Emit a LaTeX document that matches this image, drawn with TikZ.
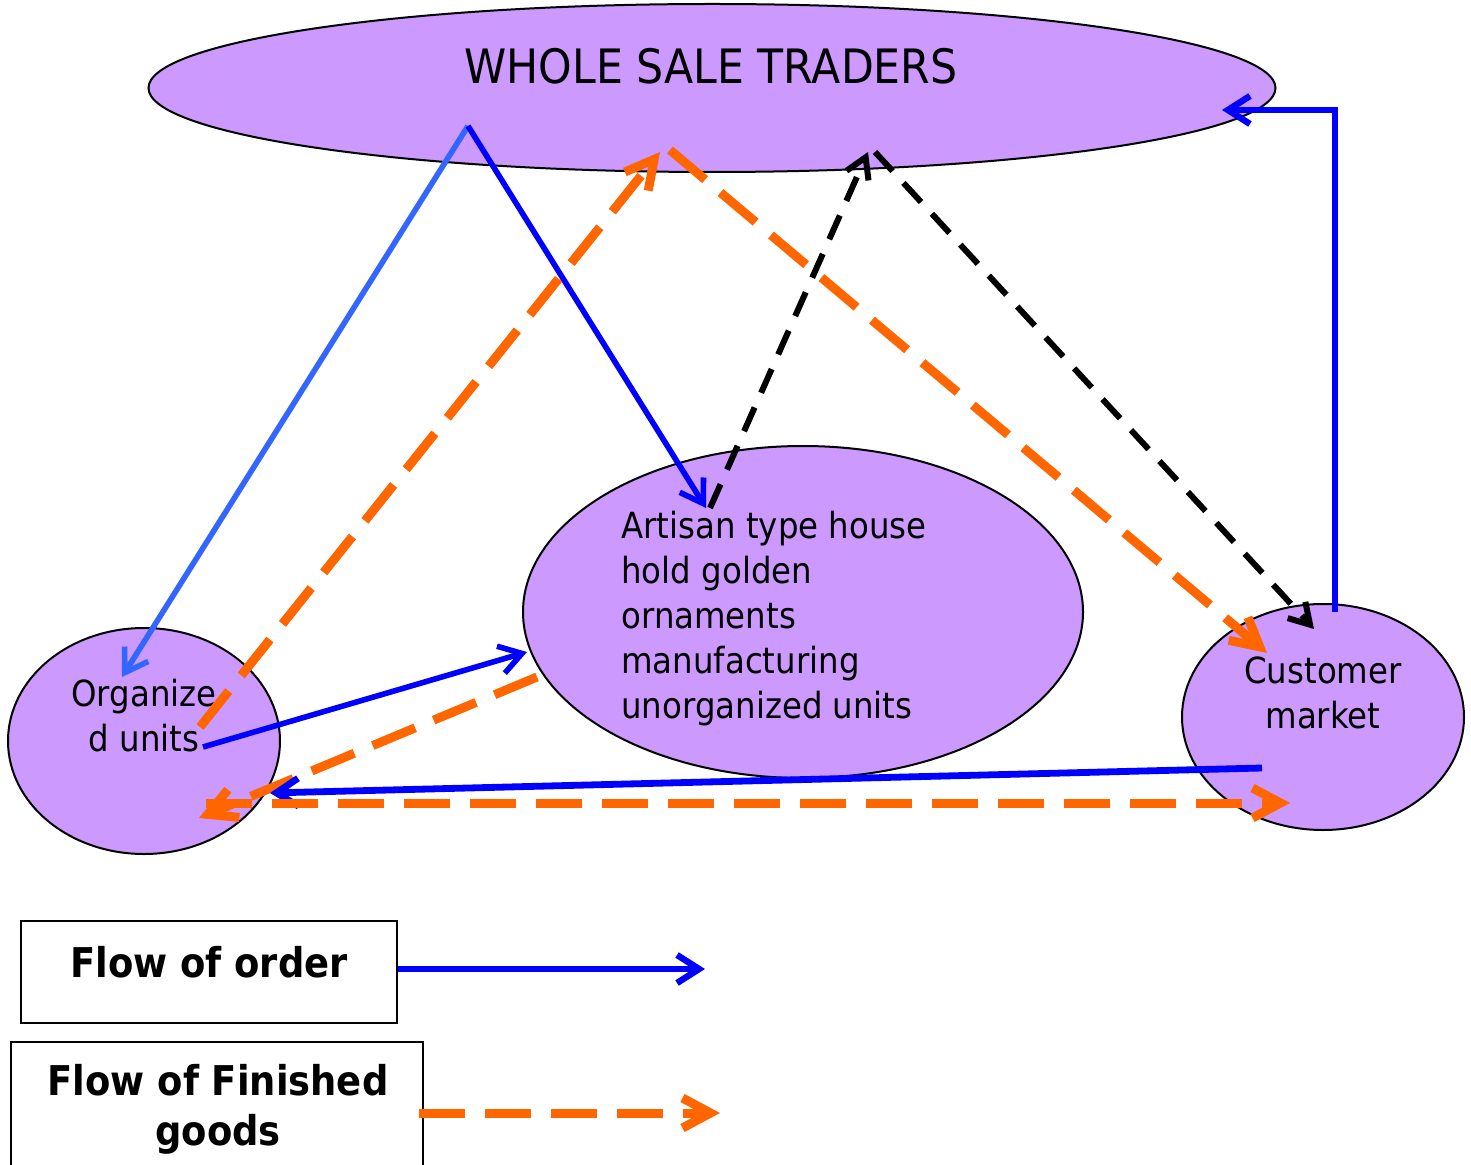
\documentclass[tikz,border=0pt]{standalone}
\usepackage{fontspec}
\setmainfont{DejaVu Sans}[FakeStretch=0.9]
\usetikzlibrary{shapes.geometric,arrows.meta}

\definecolor{lilac}{RGB}{204,153,255}
\definecolor{goodsorange}{RGB}{255,102,0}
\definecolor{orderblue}{RGB}{0,0,255}
\definecolor{orderlight}{RGB}{51,102,255}

\tikzset{
  unit/.style={ellipse, draw=black, line width=1pt, fill=lilac, inner sep=0pt},
  unittext/.style={inner sep=0pt, font=\fontsize{18}{22.5}\selectfont},
  legendtext/.style={inner sep=0pt, align=center, font=\fontsize{20.5}{25}\selectfont\bfseries},
  orderflow/.style={draw=orderblue, line width=2.8pt, -{Straight Barb[length=11pt,width=14pt]}},
  goodsflow/.style={draw=goodsorange, line width=4.5pt, dash pattern=on 23pt off 10pt, -{Straight Barb[length=14pt,width=15pt]}},
  tradeflow/.style={draw=black, line width=3pt, dash pattern=on 13pt off 8pt, -{Straight Barb[length=10pt,width=12pt]}},
  legendbox/.style={draw=black, line width=0.8pt}
}

\begin{document}
\begin{tikzpicture}[x=0.5pt,y=0.5pt,yscale=-1,xscale=1]
\useasboundingbox (0,0) rectangle (1471,1165);

%Shape: Ellipse
\node[unit, minimum width=563.5pt, minimum height=84pt] (whole) at (712,88) {};
%Shape: Ellipse
\node[unit, minimum width=280pt, minimum height=166pt] (artisan) at (803,612) {};
%Shape: Ellipse
\node[unit, minimum width=136pt, minimum height=113pt] (organized) at (144,741) {};
%Shape: Ellipse
\node[unit, minimum width=141pt, minimum height=113pt] (customer) at (1323,717) {};

% Text Node
\node[inner sep=0pt, anchor=north, font=\fontsize{23.7}{28}\selectfont] (wholetext) at (711,48) {WHOLE SALE TRADERS};
% Text Node
\node[unittext, anchor=north west, align=left] (artisantext) at (621,511) {Artisan type house\\hold golden\\ornaments\\manufacturing\\unorganized units};
% Text Node
\node[unittext, anchor=north, align=center] (organizedtext) at (144,679) {Organize\\d units};
% Text Node
\node[unittext, anchor=north, align=center] (customertext) at (1323,656) {Customer\\market};

%Points
\coordinate (wsout) at (468,126);
\coordinate (orgin) at (122,677);
\coordinate (artin) at (706,508);
\coordinate (artout) at (710,508);
\coordinate (wsin) at (868,152);
\coordinate (wsgoodsin) at (660,152);
\coordinate (wsgoodsout) at (670,150);
\coordinate (wsblackout) at (875,152);
\coordinate (custgoodsin) at (1267,653);
\coordinate (custblackin) at (1314,629);
\coordinate (custtop) at (1335,612);
\coordinate (wsright) at (1222,110);
\coordinate (orgorderout) at (203,747);
\coordinate (artorderin) at (527,652);
\coordinate (orggoodsout) at (200,727);
\coordinate (artgoodsout) at (537,677);
\coordinate (orggoodsin) at (199,818);
\coordinate (custorderout) at (1262,768);
\coordinate (orgorderin) at (270,793);
\coordinate (orgbottom) at (206,803);
\coordinate (custgoodsbottom) at (1290,803);

%Straight Lines
\draw[orderflow, draw=orderlight] (wsout) -- (orgin);
\draw[orderflow] (wsout) -- (artin);
\draw[goodsflow] (orggoodsout) -- (wsgoodsin);
\draw[goodsflow] (wsgoodsout) -- (custgoodsin);
\draw[tradeflow] (artout) -- (wsin);
\draw[tradeflow] (wsblackout) -- (custblackin);
\draw[orderflow, line width=3.2pt] (custtop) |- (wsright);
\draw[orderflow] (orgorderout) -- (artorderin);
\draw[goodsflow] (artgoodsout) -- (orggoodsin);
\draw[orderflow, line width=3.4pt] (custorderout) -- (orgorderin);
\draw[goodsflow] (orgbottom) -- (custgoodsbottom);

%Legend
\node[legendbox, minimum width=188pt, minimum height=51pt] (orderbox) at (209,972) {};
\node[legendbox, minimum width=206pt, minimum height=70pt] (goodsbox) at (217,1112) {};
% Text Node
\node[legendtext, anchor=north] (ordertext) at (209,946) {Flow of order};
% Text Node
\node[legendtext, anchor=north] (goodstext) at (218,1064) {Flow of Finished\\goods};
\coordinate (orderkey) at (705,969);
\coordinate (goodskeystart) at (419,1113);
\coordinate (goodskey) at (720,1113);
\draw[orderflow, line width=3.2pt] (orderbox.east |- orderkey) -- (orderkey);
\draw[goodsflow] (goodskeystart) -- (goodskey);

\end{tikzpicture}
\end{document}
